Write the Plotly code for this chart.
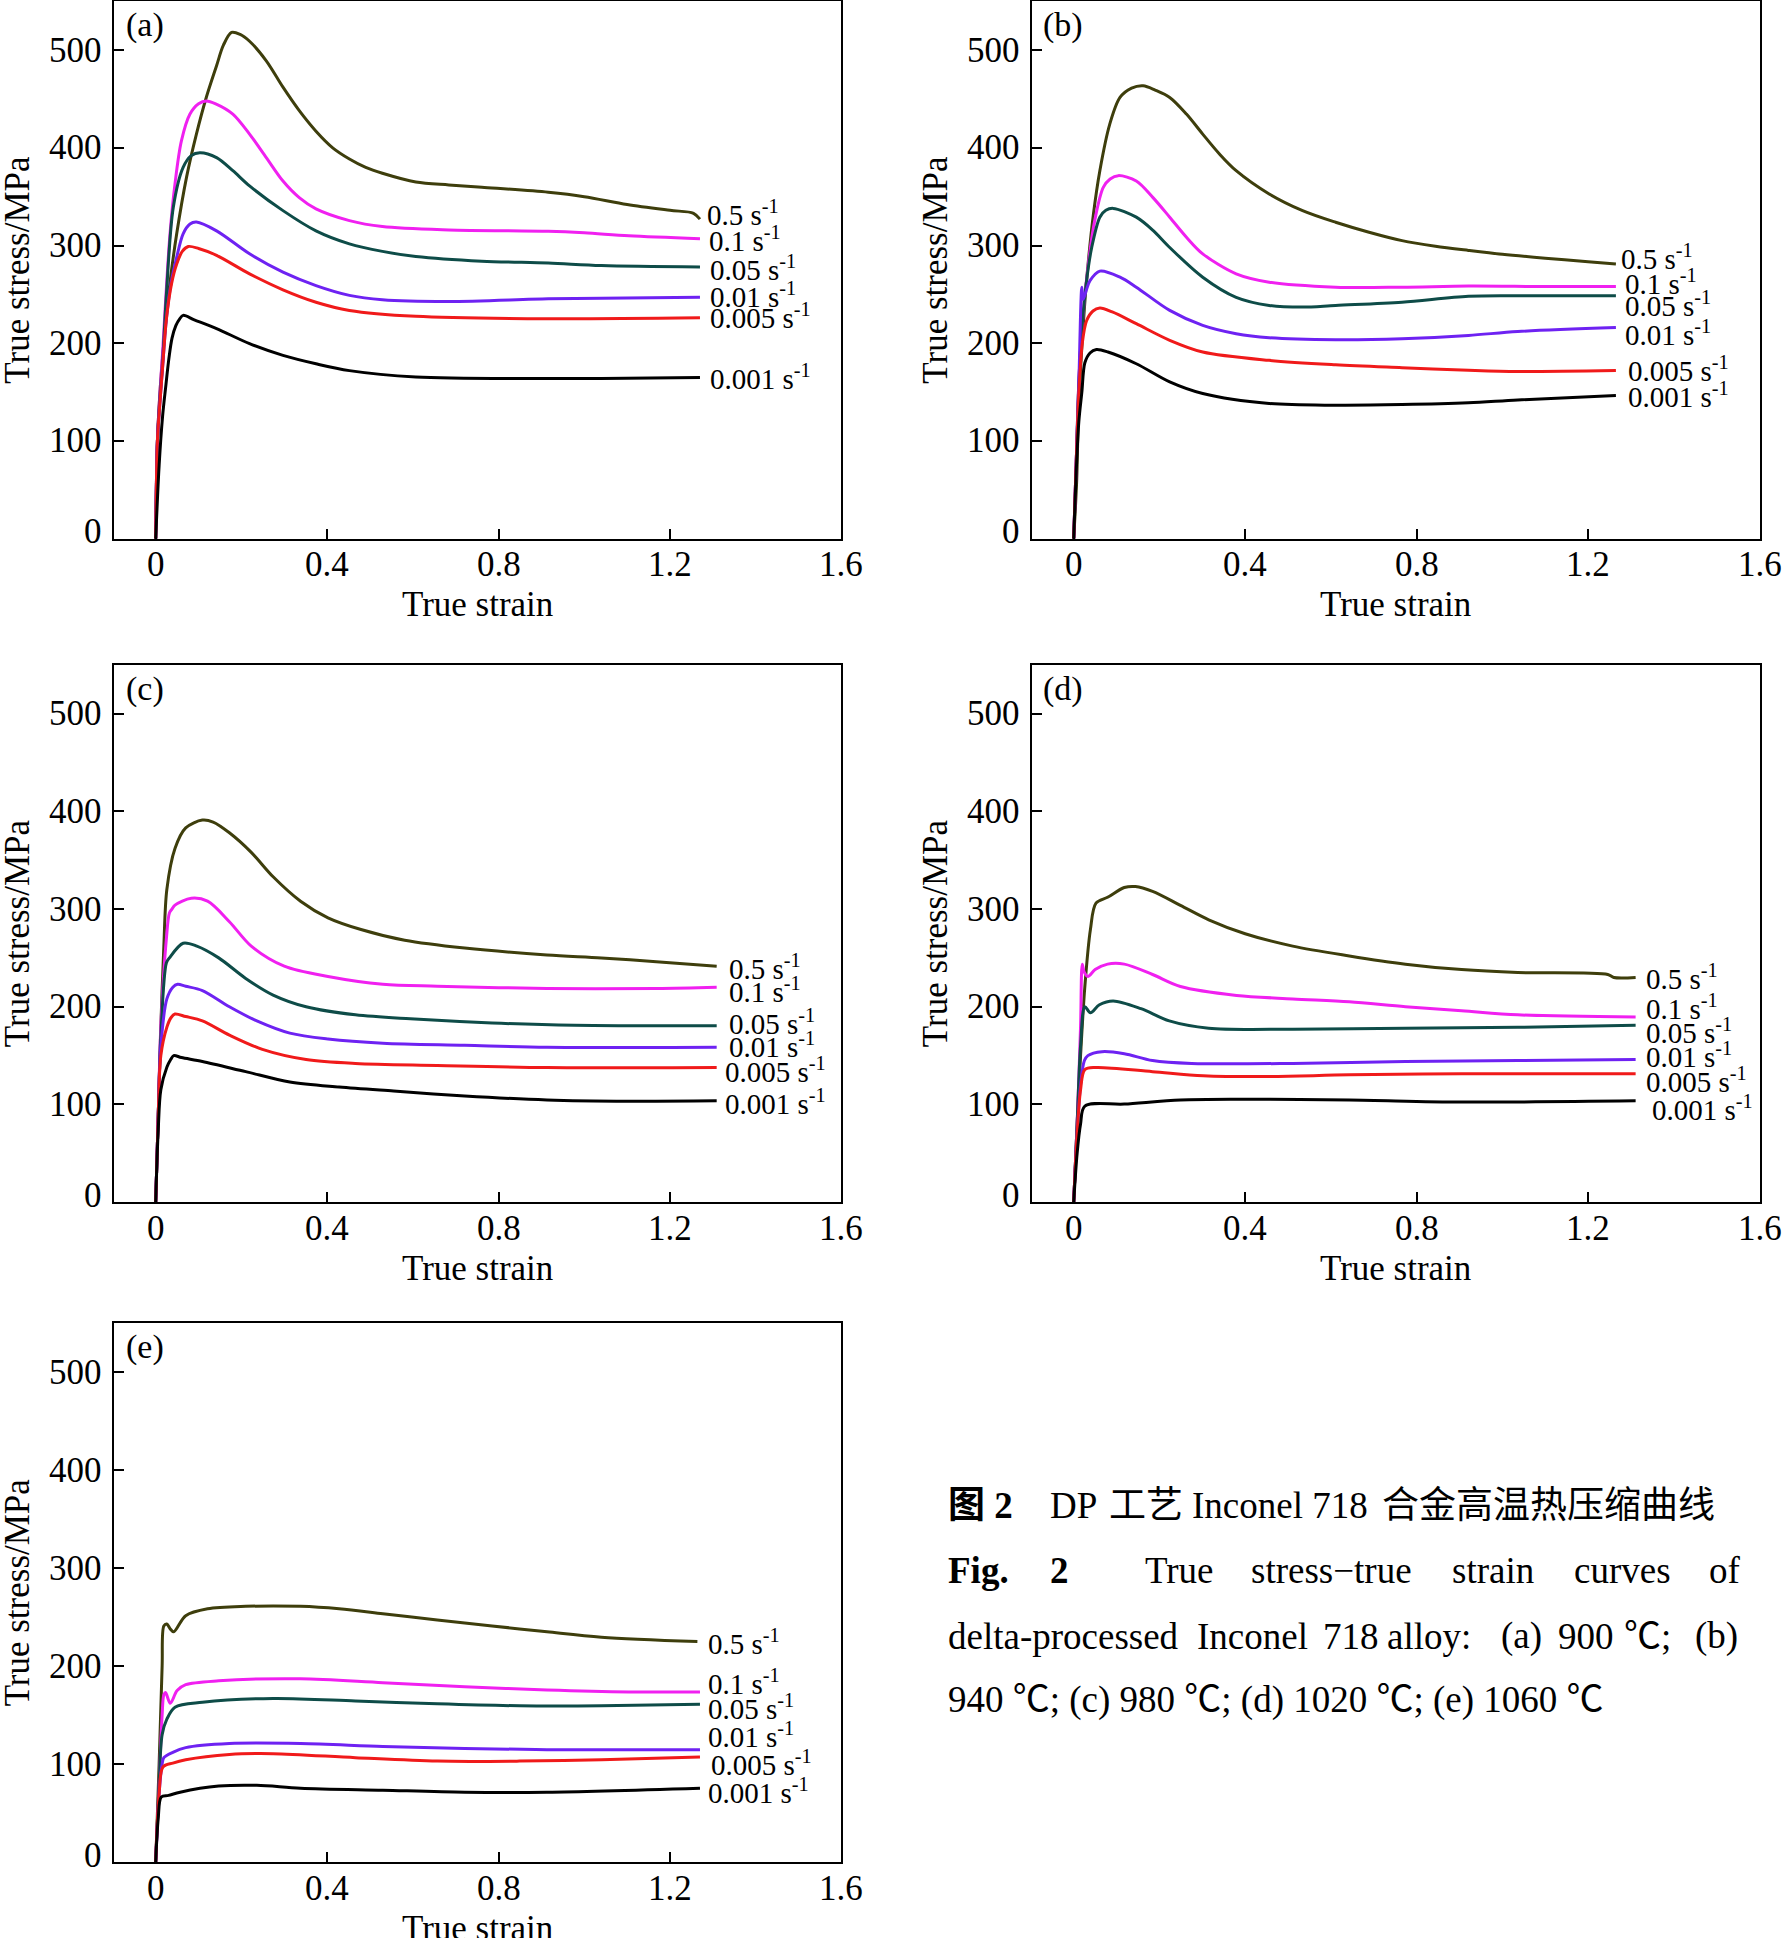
import plotly.graph_objects as go

W, H = 1783, 1938

rates = ["0.5", "0.1", "0.05", "0.01", "0.005", "0.001"]
panel_names = ["(a)", "(b)", "(c)", "(d)", "(e)"]
x_ticks = [0, 0.4, 0.8, 1.2, 1.6]
x_tick_text = ["0", "0.4", "0.8", "1.2", "1.6"]
y_ticks = [0, 100, 200, 300, 400, 500]
y_tick_text = ["0", "100", "200", "300", "400", "500"]

# ---------------- (a) 900 C ----------------
a_strain_05 = [0, 0.004, 0.01, 0.016, 0.022, 0.033, 0.049, 0.072, 0.095, 0.118, 0.142, 0.158, 0.177, 0.197, 0.219, 0.258, 0.297, 0.335, 0.374, 0.413, 0.452, 0.49, 0.529, 0.607, 0.684, 0.761, 0.916, 1.0, 1.1, 1.2, 1.255, 1.27]
a_stress_05 = [0, 100, 150, 185, 215, 261, 312, 370, 414, 451.5, 484, 505, 518, 516, 509, 489, 462, 438, 417, 400, 388.6, 380, 374, 365, 362, 359.6, 354.5, 350, 342, 336, 333, 327]
a_strain_01 = [0, 0.004, 0.01, 0.016, 0.022, 0.033, 0.045, 0.06, 0.08, 0.1, 0.118, 0.14, 0.18, 0.219, 0.258, 0.297, 0.335, 0.374, 0.452, 0.529, 0.684, 0.916, 1.0, 1.104, 1.27]
a_stress_01 = [0, 100, 150, 190, 235, 310, 363, 407, 434.5, 445, 448, 445, 434.5, 414, 390, 366, 349, 337.5, 325.5, 319.4, 316, 314.6, 313, 310, 307]
a_strain_005 = [0, 0.004, 0.01, 0.016, 0.025, 0.041, 0.064, 0.083, 0.103, 0.142, 0.18, 0.219, 0.297, 0.374, 0.452, 0.529, 0.607, 0.761, 0.916, 1.04, 1.27]
a_stress_005 = [0, 100, 145, 180, 250, 339, 380, 392, 395, 390, 376.6, 361, 335.7, 315, 301.7, 294, 288.8, 284, 282, 279.5, 278]
a_strain_001 = [0, 0.004, 0.01, 0.016, 0.025, 0.036, 0.049, 0.064, 0.08, 0.095, 0.142, 0.219, 0.297, 0.374, 0.452, 0.529, 0.684, 0.916, 1.04, 1.27]
a_stress_001 = [0, 100, 140, 175, 225, 262, 288, 312, 322, 324, 315, 291.5, 272.7, 259, 249, 244.5, 242.8, 245.5, 246, 247]
a_strain_0005 = [0, 0.004, 0.01, 0.016, 0.025, 0.037, 0.049, 0.062, 0.076, 0.1, 0.142, 0.219, 0.297, 0.374, 0.452, 0.607, 0.916, 1.27]
a_stress_0005 = [0, 100, 140, 175, 225, 261, 281, 294, 299, 297, 290, 271, 254.7, 242, 233.6, 227.5, 225, 226]
a_strain_0001 = [0, 0.008, 0.016, 0.024, 0.031, 0.038, 0.047, 0.056, 0.064, 0.09, 0.142, 0.219, 0.297, 0.374, 0.452, 0.607, 0.916, 1.04, 1.27]
a_stress_0001 = [0, 75, 125, 158, 185, 205, 218, 225, 228.5, 224, 215, 199.6, 187.6, 179, 172, 165.5, 163.8, 164, 165]

# ---------------- (b) 940 C ----------------
b_strain_05 = [0, 0.007, 0.011, 0.019, 0.03, 0.046, 0.061, 0.084, 0.108, 0.135, 0.162, 0.19, 0.224, 0.263, 0.301, 0.34, 0.379, 0.456, 0.534, 0.611, 0.689, 0.766, 0.844, 0.921, 1.0, 1.1, 1.2, 1.265]
b_stress_05 = [0, 60, 128, 196, 264, 332, 376.6, 424, 451.5, 461, 463.4, 459, 451.5, 434.5, 414, 393.7, 376.6, 352.8, 335.7, 323.8, 313.6, 305, 299.3, 295, 291, 287, 283.5, 281]
b_strain_01 = [0, 0.006, 0.012, 0.02, 0.034, 0.049, 0.069, 0.085, 0.104, 0.146, 0.185, 0.224, 0.263, 0.301, 0.379, 0.456, 0.611, 0.766, 0.921, 1.1, 1.265]
b_stress_01 = [0, 80, 160, 220, 281, 325.5, 359.5, 368, 371.5, 366, 349, 329, 308.5, 291.5, 271, 262.5, 257.4, 257.4, 258.5, 258, 258]
b_strain_005 = [0, 0.006, 0.012, 0.02, 0.03, 0.042, 0.061, 0.075, 0.092, 0.146, 0.185, 0.224, 0.301, 0.379, 0.456, 0.534, 0.611, 0.766, 0.921, 1.05, 1.265]
b_stress_005 = [0, 80, 160, 220, 264, 298, 329, 336, 338, 329, 315.5, 298, 267.6, 247, 238.7, 237, 238.7, 242, 248, 248.5, 248.5]
b_strain_001 = [0, 0.006, 0.012, 0.019, 0.022, 0.03, 0.038, 0.061, 0.108, 0.146, 0.224, 0.301, 0.379, 0.456, 0.611, 0.766, 0.921, 1.036, 1.265]
b_stress_001 = [0, 80, 160, 257.4, 245, 255, 264, 273.8, 267.6, 257.4, 233.6, 218.3, 209.8, 205.7, 203.7, 204.7, 208, 212, 216]
b_strain_0005 = [0, 0.006, 0.012, 0.02, 0.03, 0.045, 0.061, 0.09, 0.146, 0.224, 0.301, 0.456, 0.611, 0.766, 0.921, 1.036, 1.265]
b_stress_0005 = [0, 80, 150, 200, 223, 233, 236, 232, 220, 203, 191, 182.5, 178, 175, 172.3, 171, 172]
b_strain_0001 = [0, 0.006, 0.012, 0.019, 0.026, 0.038, 0.053, 0.08, 0.146, 0.224, 0.301, 0.456, 0.611, 0.766, 0.921, 1.036, 1.265]
b_stress_0001 = [0, 70, 120, 150, 180, 190, 193.5, 191, 179, 160.4, 148.5, 138.3, 136.6, 137.2, 139, 142, 146.5]

# ---------------- (c) 980 C ----------------
c_strain_05 = [0, 0.006, 0.012, 0.019, 0.026, 0.045, 0.07, 0.109, 0.134, 0.172, 0.223, 0.274, 0.338, 0.402, 0.479, 0.581, 0.721, 0.913, 1.04, 1.168, 1.309]
c_stress_05 = [0, 90, 180, 262, 320, 362, 383, 391, 389, 378, 358, 333, 308, 291, 279, 268, 260, 253, 250, 246, 241.5]
c_strain_01 = [0, 0.006, 0.012, 0.025, 0.032, 0.038, 0.045, 0.083, 0.121, 0.172, 0.223, 0.30, 0.402, 0.53, 0.657, 0.913, 1.168, 1.309]
c_stress_01 = [0, 90, 180, 270, 296, 300, 304, 311, 308, 287, 262, 241.5, 231, 223, 221, 218.7, 218.7, 220]
c_strain_005 = [0, 0.006, 0.012, 0.025, 0.032, 0.064, 0.096, 0.147, 0.21, 0.274, 0.351, 0.466, 0.594, 0.785, 0.977, 1.309]
c_stress_005 = [0, 90, 170, 245, 250, 265, 262, 250, 229, 212, 200, 191.7, 187.6, 183.4, 181, 180.5]
c_strain_001 = [0, 0.006, 0.012, 0.026, 0.04, 0.051, 0.07, 0.109, 0.172, 0.236, 0.313, 0.402, 0.53, 0.721, 0.913, 1.309]
c_stress_001 = [0, 90, 160, 208, 220, 223, 221, 216.6, 200, 185.5, 173, 167, 162.7, 160.6, 158.5, 158.5]
c_strain_0005 = [0, 0.006, 0.012, 0.026, 0.036, 0.045, 0.07, 0.109, 0.172, 0.249, 0.351, 0.466, 0.657, 0.913, 1.309]
c_stress_0005 = [0, 90, 150, 179, 189, 192.5, 190, 185.5, 171, 156.4, 146, 142, 140, 137.8, 137.8]
c_strain_0001 = [0, 0.006, 0.012, 0.026, 0.035, 0.042, 0.06, 0.109, 0.21, 0.313, 0.428, 0.555, 0.721, 0.913, 1.104, 1.309]
c_stress_0001 = [0, 75, 115, 138, 146, 150, 148, 144, 133.6, 123, 117.8, 113.7, 108.7, 104.6, 103.3, 103.7]

# ---------------- (d) 1020 C ----------------
d_strain_05 = [0, 0.008, 0.016, 0.026, 0.039, 0.052, 0.079, 0.118, 0.144, 0.184, 0.249, 0.315, 0.40, 0.511, 0.643, 0.774, 0.905, 1.036, 1.246, 1.26, 1.311]
d_stress_05 = [0, 80, 150, 220.7, 279, 306, 312, 322, 323, 318, 303.7, 289, 274.7, 262, 252, 243.6, 238, 235, 233, 230, 230]
d_strain_01 = [0, 0.008, 0.016, 0.02, 0.024, 0.033, 0.05, 0.079, 0.118, 0.184, 0.249, 0.38, 0.511, 0.643, 0.774, 0.905, 1.036, 1.311]
d_stress_01 = [0, 80, 180, 243.6, 236, 231, 238, 243.6, 243.6, 233, 220.7, 211.6, 208, 205, 200, 196, 191.7, 189.6]
d_strain_005 = [0, 0.008, 0.016, 0.026, 0.039, 0.06, 0.092, 0.157, 0.223, 0.315, 0.511, 0.774, 1.036, 1.311]
d_stress_005 = [0, 80, 160, 200, 193.8, 202, 206, 198, 185.5, 178, 177, 178, 179, 181]
d_strain_001 = [0, 0.008, 0.016, 0.025, 0.033, 0.066, 0.118, 0.184, 0.275, 0.511, 0.774, 1.036, 1.311]
d_stress_001 = [0, 70, 120, 145, 150, 154, 152, 145, 142, 142, 144, 145, 146]
d_strain_0005 = [0, 0.008, 0.016, 0.026, 0.052, 0.184, 0.302, 0.446, 0.643, 0.905, 1.311]
d_stress_0005 = [0, 70, 115, 135.7, 137.8, 133.6, 129.5, 128.6, 130.3, 131.5, 131.5]
d_strain_0001 = [0, 0.008, 0.016, 0.026, 0.118, 0.249, 0.38, 0.643, 0.905, 1.311]
d_stress_0001 = [0, 50, 80, 98.3, 100.4, 104.6, 105.4, 104.6, 102.5, 103.7]

# ---------------- (e) 1060 C ----------------
e_strain_05 = [0, 0.008, 0.015, 0.019, 0.026, 0.034, 0.042, 0.07, 0.121, 0.21, 0.338, 0.428, 0.53, 0.657, 0.785, 0.913, 1.04, 1.264]
e_stress_05 = [0, 100, 200, 241, 243, 238, 235, 251.5, 258.5, 261, 261, 258.5, 253.5, 247, 241, 235, 229.5, 225]
e_strain_01 = [0, 0.008, 0.015, 0.019, 0.023, 0.034, 0.05, 0.07, 0.147, 0.338, 0.53, 0.721, 0.913, 1.104, 1.27]
e_stress_01 = [0, 80, 150, 170.7, 173, 162, 175, 181, 185, 187, 183, 179, 175.6, 173.6, 173.6]
e_strain_005 = [0, 0.008, 0.015, 0.026, 0.045, 0.109, 0.274, 0.466, 0.657, 0.849, 1.04, 1.27]
e_stress_005 = [0, 80, 130, 145.8, 158, 163, 167, 164.5, 161.5, 159.5, 159.5, 161]
e_strain_001 = [0, 0.008, 0.015, 0.019, 0.04, 0.07, 0.172, 0.338, 0.53, 0.721, 0.913, 1.27]
e_stress_001 = [0, 70, 100, 106.5, 112, 116.8, 121, 121, 118, 116, 114.7, 114.7]
e_strain_0005 = [0, 0.008, 0.017, 0.04, 0.07, 0.172, 0.274, 0.466, 0.657, 0.849, 1.04, 1.27]
e_stress_0005 = [0, 70, 97, 101, 104.4, 109.8, 110.6, 106.5, 103, 103, 104.4, 107.3]
e_strain_0001 = [0, 0.006, 0.013, 0.03, 0.057, 0.147, 0.236, 0.338, 0.53, 0.721, 0.913, 1.27]
e_stress_0001 = [0, 45, 66.3, 68, 71.3, 77.5, 78.3, 75.4, 73.3, 71.3, 71.3, 75.4]

panel_series = [
    [(a_strain_05, a_stress_05), (a_strain_01, a_stress_01), (a_strain_005, a_stress_005),
     (a_strain_001, a_stress_001), (a_strain_0005, a_stress_0005), (a_strain_0001, a_stress_0001)],
    [(b_strain_05, b_stress_05), (b_strain_01, b_stress_01), (b_strain_005, b_stress_005),
     (b_strain_001, b_stress_001), (b_strain_0005, b_stress_0005), (b_strain_0001, b_stress_0001)],
    [(c_strain_05, c_stress_05), (c_strain_01, c_stress_01), (c_strain_005, c_stress_005),
     (c_strain_001, c_stress_001), (c_strain_0005, c_stress_0005), (c_strain_0001, c_stress_0001)],
    [(d_strain_05, d_stress_05), (d_strain_01, d_stress_01), (d_strain_005, d_stress_005),
     (d_strain_001, d_stress_001), (d_strain_0005, d_stress_0005), (d_strain_0001, d_stress_0001)],
    [(e_strain_05, e_stress_05), (e_strain_01, e_stress_01), (e_strain_005, e_stress_005),
     (e_strain_001, e_stress_001), (e_strain_0005, e_stress_0005), (e_strain_0001, e_stress_0001)],
]

# label anchor positions (data coords) for the rate labels in each panel
label_pos = [
    ([1.282, 1.286, 1.288, 1.288, 1.288, 1.288], [333, 307, 277.5, 249, 227.5, 165]),
    ([1.273, 1.281, 1.281, 1.281, 1.288, 1.288], [288, 262.5, 239.7, 210.5, 173.3, 146.8]),
    ([1.334, 1.334, 1.334, 1.334, 1.324, 1.324], [240.7, 217.4, 184.2, 160.6, 135.7, 102.5]),
    ([1.331, 1.331, 1.331, 1.331, 1.331, 1.344], [230, 200, 175, 151, 125, 96]),
    ([1.283, 1.283, 1.283, 1.283, 1.29, 1.283], [225, 184, 158, 130, 101.5, 72.5]),
]

colors = ["#3e3e0c", "#f020f0", "#0e4c48", "#6e22f2", "#f01a1a", "#000000"]

# plot boxes in pixels: left, right, top, bottom
boxes = [
    (113.7, 841.4, 1.2, 538.7),
    (1031.7, 1759.5, 1.2, 538.7),
    (113.7, 841.4, 664.7, 1202.2),
    (1031.7, 1759.5, 664.7, 1202.2),
    (113.7, 841.4, 1323.3, 1862.0),
]

SERIF = "Liberation Serif, 'Noto Sans CJK SC', serif"
TICK_SIZE = 35
LABEL_SIZE = 29

def px(x):
    return x / W

def py(y):
    return 1 - y / H

fig = go.Figure()
annotations = []
layout_axes = {}

for i, (series, box) in enumerate(zip(panel_series, boxes)):
    n = i + 1
    xa = "x" if n == 1 else f"x{n}"
    ya = "y" if n == 1 else f"y{n}"
    for j, (sx, sy) in enumerate(series):
        fig.add_trace(go.Scatter(
            x=sx, y=sy, xaxis=xa, yaxis=ya, mode="lines",
            line=dict(color=colors[j], width=3, shape="spline", smoothing=0.9),
            showlegend=False, hoverinfo="skip"))
    l, r, t, b = box
    axis_common = dict(showline=True, linewidth=2, linecolor="black", mirror=True,
                       ticks="inside", ticklen=10, tickwidth=2, tickcolor="black",
                       showgrid=False, zeroline=False, showticklabels=False,
                       automargin=False)
    layout_axes["xaxis" if n == 1 else f"xaxis{n}"] = dict(
        axis_common, domain=[px(l), px(r)], anchor=ya, range=[-0.098, 1.6],
        tickvals=x_ticks)
    layout_axes["yaxis" if n == 1 else f"yaxis{n}"] = dict(
        axis_common, domain=[py(b), py(t)], anchor=xa, range=[0, 550],
        tickvals=y_ticks)
    # tick labels
    for tv, tt in zip(x_ticks, x_tick_text):
        annotations.append(dict(x=tv, y=py(b + 26), xref=xa, yref="paper", text=tt,
                                showarrow=False, xanchor="center", yanchor="middle",
                                font=dict(family=SERIF, size=TICK_SIZE, color="black")))
    for tv, tt in zip(y_ticks, y_tick_text):
        annotations.append(dict(x=px(l - 10), y=tv, xref="paper", yref=ya, text=tt,
                                showarrow=False, xanchor="right", yanchor="middle",
                                yshift=7 if tv == 0 else 0,
                                font=dict(family=SERIF, size=TICK_SIZE, color="black")))
    # axis titles
    annotations.append(dict(x=px(l - 96), y=py((t + b) / 2), xref="paper", yref="paper",
                            text="True stress/MPa", textangle=-90, showarrow=False,
                            xanchor="center", yanchor="middle",
                            font=dict(family=SERIF, size=TICK_SIZE, color="black")))
    annotations.append(dict(x=px((l + r) / 2), y=py(b + 66), xref="paper", yref="paper",
                            text="True strain", showarrow=False,
                            xanchor="center", yanchor="middle",
                            font=dict(family=SERIF, size=TICK_SIZE, color="black")))
    annotations.append(dict(x=px(l + 31), y=py(t + 24), xref="paper", yref="paper",
                            text=panel_names[i], showarrow=False,
                            xanchor="center", yanchor="middle",
                            font=dict(family=SERIF, size=34, color="black")))
    lx, ly = label_pos[i]
    for j, rate in enumerate(rates):
        annotations.append(dict(x=lx[j], y=ly[j], xref=xa, yref=ya,
                                text=f"{rate} s<sup>-1</sup>", showarrow=False,
                                xanchor="left", yanchor="middle",
                                font=dict(family=SERIF, size=LABEL_SIZE, color="black")))

# caption
CAP = 37
caption_pieces = [
    ("<b>图 2</b>", 946.4, 1505),
    ("DP", 1048, 1505),
    ("工艺", 1107, 1505),
    ("Inconel 718", 1190, 1505),
    ("合金高温热压缩曲线", 1379.5, 1505),
    ("<b>Fig.</b>", 946.4, 1570),
    ("<b>2</b>", 1047.7, 1570),
    ("True", 1143, 1570),
    ("stress\u2212true", 1249, 1570),
    ("strain", 1449.5, 1570),
    ("curves", 1572, 1570),
    ("of", 1707, 1570),
    ("delta-processed", 946.4, 1636),
    ("Inconel", 1195, 1636),
    ("718", 1320.7, 1636),
    ("alloy:", 1385, 1636),
    ("(a)", 1499, 1636),
    ("900", 1555.6, 1636),
    ("\u2103;", 1621.7, 1636),
    ("(b)", 1693, 1636),
    ("940 \u2103; (c) 980 \u2103; (d) 1020 \u2103; (e) 1060 \u2103", 946.4, 1700),
]
for text, cx, cy in caption_pieces:
    annotations.append(dict(x=px(cx), y=py(cy), xref="paper", yref="paper", text=text,
                            showarrow=False, xanchor="left", yanchor="middle",
                            font=dict(family=SERIF, size=CAP, color="black")))

fig.update_layout(
    width=W, height=H, margin=dict(l=0, r=0, t=0, b=0, autoexpand=False),
    paper_bgcolor="white", plot_bgcolor="white",
    annotations=annotations, showlegend=False, **layout_axes)

fig.write_html("out.html", config={"displayModeBar": False},
               post_script="document.body.style.margin='0px';document.body.style.padding='0px';")
